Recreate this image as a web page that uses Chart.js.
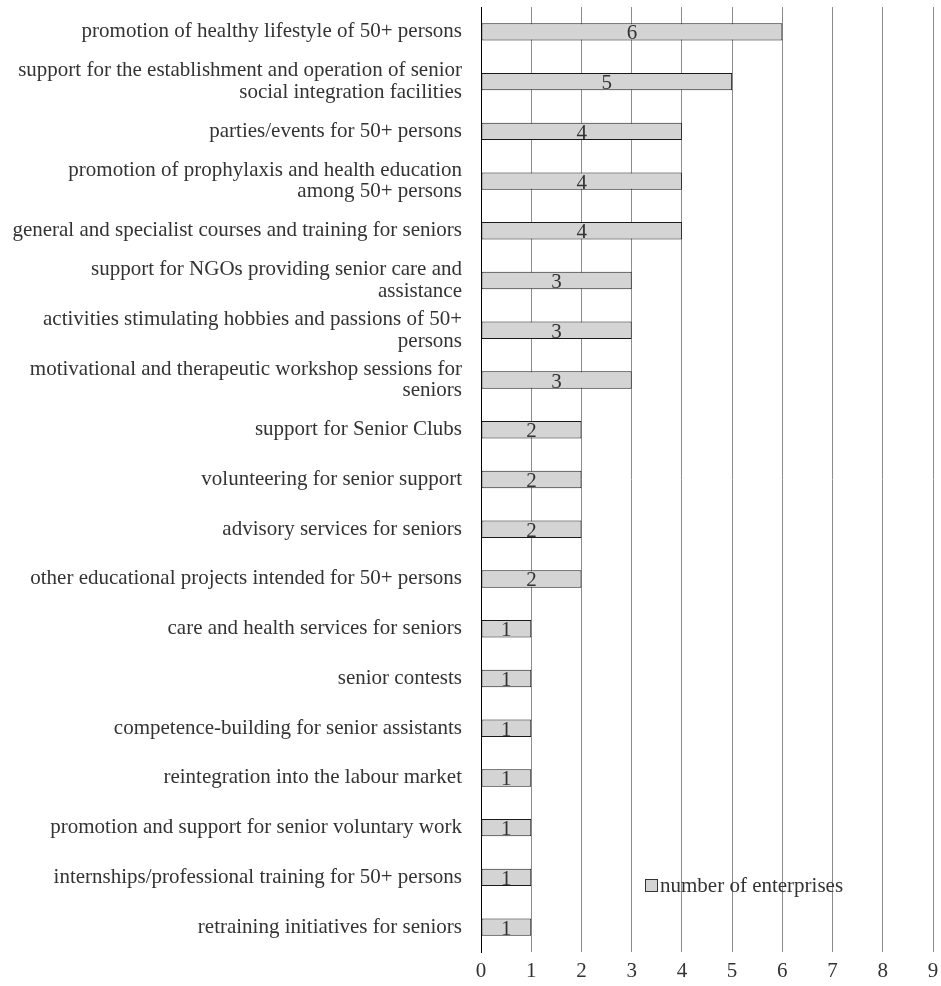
<!DOCTYPE html>
<html lang="en">
<head>
<meta charset="UTF-8">
<title>number of enterprises</title>
<script src="https://cdn.jsdelivr.net/npm/chart.js"></script>
<style>
    html, body { margin: 0; padding: 0; background: #fff; }
    #wrap { position: relative; width: 941px; height: 986px; }
    #legend { position: absolute; left: 645px; top: 872px; font-family: "Liberation Serif", serif; font-size: 21px; line-height: 26px; color: #333; display: flex; align-items: center; }
    #legend span.box { display: inline-block; width: 11px; height: 11px; background: #d4d4d4; border: 1px solid #333; margin-right: 2px; }
</style>
</head>
<body>
<div id="wrap">
    <canvas id="chart" width="941" height="986"></canvas>
    <div id="legend"><span class="box"></span>number of enterprises</div>
</div>
<script>
// categories (top to bottom)
const categories = [
    'promotion of healthy lifestyle of 50+ persons',
    ['support for the establishment and operation of senior', 'social integration facilities'],
    'parties/events for 50+ persons',
    ['promotion of prophylaxis and health education', 'among 50+ persons'],
    'general and specialist courses and training for seniors',
    ['support for NGOs providing senior care and', 'assistance'],
    ['activities stimulating hobbies and passions of 50+', 'persons'],
    ['motivational and therapeutic workshop sessions for', 'seniors'],
    'support for Senior Clubs',
    'volunteering for senior support',
    'advisory services for seniors',
    'other educational projects intended for 50+ persons',
    'care and health services for seniors',
    'senior contests',
    'competence-building for senior assistants',
    'reintegration into the labour market',
    'promotion and support for senior voluntary work',
    'internships/professional training for 50+ persons',
    'retraining initiatives for seniors'
];
const enterprises = [6, 5, 4, 4, 4, 3, 3, 3, 2, 2, 2, 2, 1, 1, 1, 1, 1, 1, 1];
const xTicks = [0, 1, 2, 3, 4, 5, 6, 7, 8, 9];

const FONT = '"Liberation Serif", "Times New Roman", serif';

// numbers in the middle of each bar
const barLabels = {
    id: 'barLabels',
    afterDatasetsDraw(chart) {
        const ctx = chart.ctx;
        const meta = chart.getDatasetMeta(0);
        ctx.save();
        ctx.font = '21px ' + FONT;
        ctx.fillStyle = '#333';
        ctx.textAlign = 'center';
        ctx.textBaseline = 'middle';
        meta.data.forEach((bar, i) => {
            const x = (bar.x + bar.base) / 2;
            ctx.fillText(enterprises[i], x, bar.y + 2);
        });
        ctx.restore();
    }
};

new Chart(document.getElementById('chart'), {
    type: 'bar',
    data: {
        labels: categories,
        datasets: [{
            label: 'number of enterprises',
            data: enterprises,
            backgroundColor: '#d4d4d4',
            borderColor: '#1a1a1a',
            borderWidth: 1,
            borderSkipped: false,
            barPercentage: 0.35,
            categoryPercentage: 1
        }]
    },
    options: {
        indexAxis: 'y',
        responsive: false,
        animation: false,
        layout: { padding: { top: 7, right: 8, left: 0, bottom: 0 } },
        plugins: {
            legend: { display: false },
            tooltip: { enabled: false }
        },
        scales: {
            x: {
                min: 0,
                max: 9,
                afterFit: s => { s.height = 34; s.paddingLeft = 0; s.paddingRight = 0; },
                afterBuildTicks: s => { s.ticks = xTicks.map(v => ({ value: v })); },
                grid: {
                    color: ctx => ctx.tick && ctx.tick.value === 0 ? '#000' : '#8c8c8c',
                    lineWidth: 1,
                    drawTicks: false
                },
                border: { display: false },
                ticks: {
                    padding: 7,
                    color: '#333',
                    font: { family: FONT, size: 21 }
                }
            },
            y: {
                afterFit: s => { s.width = 481; s.paddingTop = 0; s.paddingBottom = 0; },
                grid: { display: false, drawTicks: false },
                border: { display: true, color: '#000', width: 1 },
                ticks: {
                    padding: 19,
                    color: '#333',
                    font: { family: FONT, size: 21, lineHeight: 1.03 },
                    autoSkip: false
                }
            }
        }
    },
    plugins: [barLabels]
});
</script>
</body>
</html>
